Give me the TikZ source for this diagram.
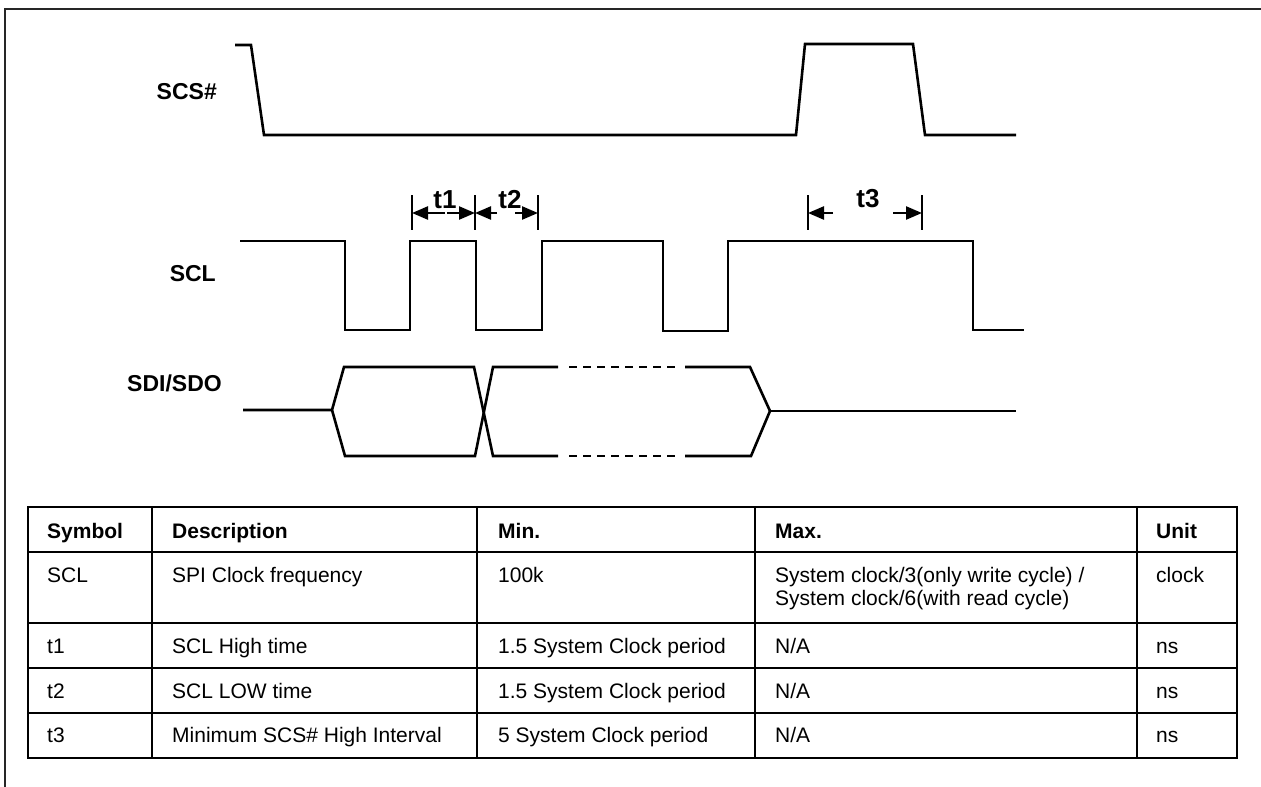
\documentclass[tikz,border=0pt]{standalone}
\usepackage{fontspec}
\setmainfont{Liberation Sans}
\usetikzlibrary{arrows.meta}
\begin{document}
\begin{tikzpicture}[x=1pt,y=-1pt,
  wave/.style={line width=2.6pt, line join=miter},
  tline/.style={line width=2.8pt},
  frameline/.style={line width=2.6pt, black!85},
  dimbar/.style={line width=2.4pt},
  dimarrow/.style={line width=2.4pt, -{Triangle[length=16pt,width=13pt]}},
  siglabel/.style={anchor=base east, inner sep=0pt, font=\fontsize{23}{26}\selectfont\bfseries},
  tlabel/.style={anchor=base, inner sep=0pt, font=\fontsize{26}{28}\selectfont\bfseries},
  cell/.style={anchor=base west, inner sep=0pt, font=\fontsize{21}{24}\selectfont},
  hcell/.style={cell, font=\fontsize{21}{24}\selectfont\bfseries}]
\useasboundingbox (0,0) rectangle (1261,787);
% frame
\draw[frameline] (5,787) -- (5,9) -- (1261,9);
% signal labels
\node[siglabel] (lscs) at (217,99) {SCS\#};
\node[siglabel] (lscl) at (216,281) {SCL};
\node[siglabel] (lsdi) at (222,391) {SDI/SDO};
% SCS#
\draw[wave] (235,45) -- (251,45) -- (264,135) -- (796,135) -- (805,44) -- (913,44) -- (925,135) -- (1016,135);
% SCL
\draw[wave] (240,241) -- (345,241) -- (345,330) -- (410,330) -- (410,241) -- (476,241) -- (476,330) -- (542,330) -- (542,241) -- (663,241) -- (663,331) -- (728,331) -- (728,241) -- (973,241) -- (973,330) -- (1024,330);
% SDI/SDO
\draw[wave] (243,410) -- (332,410) -- (344,367) -- (474,367) -- (493,456) -- (558,456);
\draw[wave] (332,410) -- (345,456) -- (475,456) -- (493,367) -- (558,367);
\draw[wave, dash pattern=on 8pt off 6pt] (569,367) -- (675,367);
\draw[wave, dash pattern=on 8pt off 6pt] (569,456) -- (675,456);
\draw[wave] (685,367) -- (750,367) -- (770,411) -- (751,456) -- (685,456);
\draw[wave] (770,411) -- (1016,411);
% dimension bars
\coordinate (b1t) at (412,195); \coordinate (b1b) at (412,230);
\coordinate (b2t) at (475,195); \coordinate (b2b) at (475,230);
\coordinate (b3t) at (538,195); \coordinate (b3b) at (538,230);
\coordinate (b4t) at (808,195); \coordinate (b4b) at (808,230);
\coordinate (b5t) at (922,195); \coordinate (b5b) at (922,230);
\draw[dimbar] (b1t) -- (b1b);
\draw[dimbar] (b2t) -- (b2b);
\draw[dimbar] (b3t) -- (b3b);
\draw[dimbar] (b4t) -- (b4b);
\draw[dimbar] (b5t) -- (b5b);
\coordinate (a1) at (412,213); \coordinate (a2) at (475,213); \coordinate (a3) at (538,213);
\coordinate (a4) at (808,213); \coordinate (a5) at (922,213);
\coordinate (m1l) at (445,213); \coordinate (m1r) at (447,213);
\coordinate (m2l) at (497,213); \coordinate (m2r) at (515,213);
\coordinate (m3l) at (833,213); \coordinate (m3r) at (893,213);
\draw[dimarrow] (m1l) -- (a1);
\draw[dimarrow] (m1r) -- (a2);
\draw[dimarrow] (m2l) -- (a2);
\draw[dimarrow] (m2r) -- (a3);
\draw[dimarrow] (m3l) -- (a4);
\draw[dimarrow] (m3r) -- (a5);
\node[tlabel] (t1) at (445,208) {t1};
\node[tlabel] (t2) at (510,208) {t2};
\node[tlabel] (t3) at (868,207) {t3};
% table grid
\draw[tline] (28,507) rectangle (1237,758);
\foreach \yy in {552,623,668,713} \draw[tline] (28,\yy) -- (1237,\yy);
\foreach \xx in {152,477,755,1137} \draw[tline] (\xx,507) -- (\xx,758);
% header
\node[hcell] (h1) at (47,538) {Symbol};
\node[hcell] (h2) at (172,538) {Description};
\node[hcell] (h3) at (498,538) {Min.};
\node[hcell] (h4) at (775,538) {Max.};
\node[hcell] (h5) at (1156,538) {Unit};
% row SCL
\node[cell] (r1a) at (47,582) {SCL};
\node[cell] (r1b) at (172,582) {SPI Clock frequency};
\node[cell] (r1c) at (498,582) {100k};
\node[cell] (r1d) at (775,582) {System clock/3(only write cycle) /};
\node[cell] (r1e) at (775,605) {System clock/6(with read cycle)};
\node[cell] (r1f) at (1156,582) {clock};
% row t1
\node[cell] (r2a) at (47,653) {t1};
\node[cell] (r2b) at (172,653) {SCL High time};
\node[cell] (r2c) at (498,653) {1.5 System Clock period};
\node[cell] (r2d) at (775,653) {N/A};
\node[cell] (r2f) at (1156,653) {ns};
% row t2
\node[cell] (r3a) at (47,698) {t2};
\node[cell] (r3b) at (172,698) {SCL LOW time};
\node[cell] (r3c) at (498,698) {1.5 System Clock period};
\node[cell] (r3d) at (775,698) {N/A};
\node[cell] (r3f) at (1156,698) {ns};
% row t3
\node[cell] (r4a) at (47,742) {t3};
\node[cell] (r4b) at (172,742) {Minimum SCS\# High Interval};
\node[cell] (r4c) at (498,742) {5 System Clock period};
\node[cell] (r4d) at (775,742) {N/A};
\node[cell] (r4f) at (1156,742) {ns};
\end{tikzpicture}
\end{document}
